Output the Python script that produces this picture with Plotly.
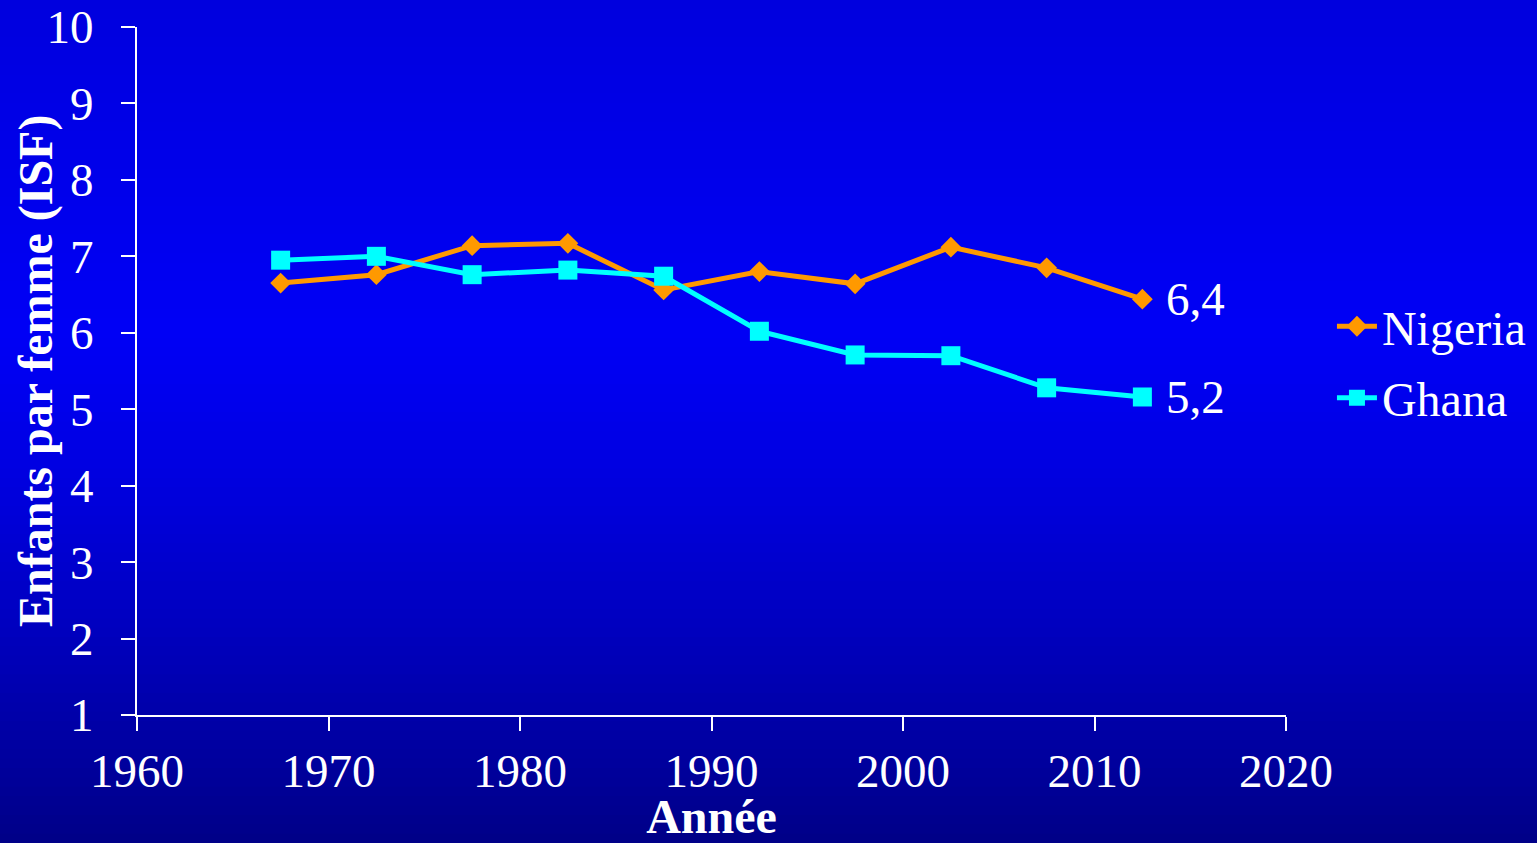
import plotly.graph_objects as go

years = [1967.5, 1972.5, 1977.5, 1982.5, 1987.5, 1992.5, 1997.5, 2002.5, 2007.5, 2012.5]
nigeria = [6.65, 6.76, 7.14, 7.17, 6.56, 6.80, 6.64, 7.12, 6.85, 6.44]
ghana = [6.95, 7.00, 6.76, 6.82, 6.74, 6.02, 5.71, 5.70, 5.28, 5.16]
end_labels = ["6,4", "5,2"]
x_ticks = [1960, 1970, 1980, 1990, 2000, 2010, 2020]
y_ticks = [1, 2, 3, 4, 5, 6, 7, 8, 9, 10]

W, H = 1537, 843
ML, MR, MT, MB = 137, 251, 27, 128
PW, PH = W - ML - MR, H - MT - MB

FONT = "Liberation Serif, Times New Roman, serif"

fig = go.Figure()
fig.add_trace(go.Scatter(x=years, y=nigeria, name="Nigeria", mode="lines+markers",
                         legendgroup="n",
                         line=dict(color="#FF9900", width=5),
                         marker=dict(symbol="diamond", size=16, color="#FF9900")))
fig.add_trace(go.Scatter(x=years, y=ghana, name="Ghana", mode="lines+markers",
                         legendgroup="g",
                         line=dict(color="#00FFFF", width=5),
                         marker=dict(symbol="square", size=19, color="#00FFFF")))

# gradient background using horizontal bands (paper coords)
def blue_at(py):
    if py < 330:
        return 222 + (245 - 222) * py / 330
    t = (py - 330) / (H - 330)
    return 245 - (245 - 135) * (t ** 1.3)

shapes = []
N = 90
for i in range(N):
    y0px = H * i / N
    y1px = H * (i + 1) / N + 1
    b = int(round(blue_at((y0px + y1px) / 2)))
    shapes.append(dict(type="rect", xref="paper", yref="paper", layer="below",
                       x0=-ML / PW - 0.01, x1=1 + MR / PW + 0.01,
                       y0=(H - MB - y1px) / PH, y1=(H - MB - y0px) / PH,
                       fillcolor=f"rgb(0,0,{b})", line=dict(width=0)))

annotations = [
    dict(x=years[-1], y=nigeria[-1], text=end_labels[0], xref="x", yref="y",
         showarrow=False, xanchor="left", xshift=22, yshift=0,
         font=dict(family=FONT, size=47, color="white")),
    dict(x=years[-1], y=ghana[-1], text=end_labels[1], xref="x", yref="y",
         showarrow=False, xanchor="left", xshift=22, yshift=0,
         font=dict(family=FONT, size=47, color="white")),
    dict(x=(36 - ML) / PW, y=0.5, xref="paper", yref="paper", textangle=-90,
         text="<b>Enfants par femme (ISF)</b>", showarrow=False,
         xanchor="center", yanchor="middle",
         font=dict(family=FONT, size=48, color="white")),
]

fig.update_layout(
    width=W, height=H,
    margin=dict(l=ML, r=MR, t=MT, b=MB, autoexpand=False),
    paper_bgcolor="#0000E6", plot_bgcolor="rgba(0,0,0,0)",
    shapes=shapes, annotations=annotations,
    font=dict(family=FONT, color="white", size=47),
    legend=dict(x=1.040, y=0.513, xanchor="left", yanchor="middle",
                bgcolor="rgba(0,0,0,0)", font=dict(family=FONT, size=48, color="white"),
                tracegroupgap=6, itemwidth=40),
    xaxis=dict(range=[1960, 2020], tickvals=x_ticks, showgrid=False, zeroline=False,
               showline=True, linecolor="white", linewidth=2, automargin=False,
               ticks="outside", ticklen=14, tickwidth=2, tickcolor="white",
               tickfont=dict(family=FONT, size=47, color="white"),
               title=dict(text="<b>Année</b>", font=dict(family=FONT, size=48, color="white"))),
    yaxis=dict(range=[1, 10], tickvals=y_ticks, showgrid=False, zeroline=False,
               showline=True, linecolor="white", linewidth=2, automargin=False,
               ticks="outside", ticklen=14, tickwidth=2, tickcolor="white",
               ticklabelstandoff=18,
               tickfont=dict(family=FONT, size=47, color="white")),
    showlegend=True,
)

fig.write_html("out.html", config={"displayModeBar": False},
               post_script="document.body.style.margin='0';document.body.style.overflow='hidden';")
